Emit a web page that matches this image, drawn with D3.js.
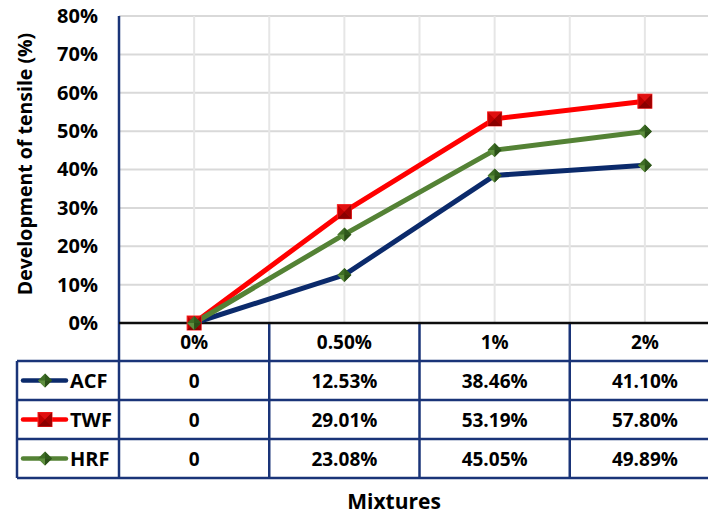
<!DOCTYPE html>
<html><head><meta charset="utf-8">
<script src="https://cdn.jsdelivr.net/npm/d3@7"></script>
<style>body{margin:0;background:#fff;} svg{display:block;} text{font-family:"Open Sans","Noto Sans",sans-serif;font-weight:700;fill:#000;}</style>
</head><body>
<svg id="c" width="708" height="515"></svg>
<script>
const categories = ["0%", "0.50%", "1%", "2%"];
const seriesNames = ["ACF", "TWF", "HRF"];
const acf = [0, 0.1253, 0.3846, 0.4110];
const twf = [0, 0.2901, 0.5319, 0.5780];
const hrf = [0, 0.2308, 0.4505, 0.4989];
const tableLabels = {
  ACF: ["0", "12.53%", "38.46%", "41.10%"],
  TWF: ["0", "29.01%", "53.19%", "57.80%"],
  HRF: ["0", "23.08%", "45.05%", "49.89%"]
};
const yTicks = [0, 0.1, 0.2, 0.3, 0.4, 0.5, 0.6, 0.7, 0.8];

const series = [
  {name: "ACF", values: acf, color: "#0b2a6b", marker: "diamond"},
  {name: "TWF", values: twf, color: "#ff0000", marker: "square"},
  {name: "HRF", values: hrf, color: "#548235", marker: "diamond"}
];

const svg = d3.select("#c");
const pLeft = 119, pRight = 720, pTop = 16, pBottom = 323;
const x = d3.scaleBand().domain(categories).range([pLeft, pRight]).paddingInner(0).paddingOuter(0);
const y = d3.scaleLinear().domain([0, 0.8]).range([pBottom, pTop]);
const navy = "#1a3478";
const rowH = 39;
const tableTop = pBottom, headerBottom = pBottom + 38;

function drawMarker(sel, s, cx, cy) {
  const gm = sel.append("g").attr("transform", `translate(${cx},${cy})`);
  if (s.marker === "square") {
    const r = 7;
    gm.append("rect").attr("x", -r).attr("y", -r).attr("width", 2 * r).attr("height", 2 * r)
      .attr("fill", "#c00000").attr("stroke", "#ff2020").attr("stroke-width", 1);
    gm.append("path").attr("d", `M${-r},${-r}L0,0L${r},${-r}Z`).attr("fill", "#e01010");
    gm.append("path").attr("d", `M${-r},${r}L0,0L${r},${r}Z`).attr("fill", "#8a0000");
    gm.append("path").attr("d", `M${r},${-r}L0,0L${r},${r}Z`).attr("fill", "#a00000");
  } else {
    const r = 7;
    gm.append("path").attr("d", `M0,${-r}L${r},0L0,${r}L${-r},0Z`).attr("fill", "#3f6e26");
    gm.append("path").attr("d", `M0,${-r}L${r},0L0,0Z`).attr("fill", "#2f5a1c");
    gm.append("path").attr("d", `M${-r},0L0,${r}L0,0Z`).attr("fill", "#5e8f3e");
    gm.append("path").attr("d", `M0,${r}L${r},0L0,0Z`).attr("fill", "#2a4f18");
  }
}

// gridlines
const g = svg.append("g");
g.selectAll(".hg").data(yTicks.slice(1)).join("line")
  .attr("x1", pLeft).attr("x2", pRight).attr("y1", d => y(d)).attr("y2", d => y(d))
  .attr("stroke", "#d9d9d9").attr("stroke-width", 2);
const vlines = [];
categories.forEach(c => { vlines.push(x(c)); vlines.push(x(c) + x.bandwidth() / 2); });
vlines.push(pRight);
g.selectAll(".vg").data(vlines.slice(1)).join("line")
  .attr("x1", d => d).attr("x2", d => d).attr("y1", pTop).attr("y2", pBottom)
  .attr("stroke", "#e6e6e6").attr("stroke-width", 2);

// y axis ticks
const yAxis = d3.axisLeft(y).tickValues(yTicks).tickFormat(d3.format(".0%")).tickSize(0).tickPadding(21);
const ya = svg.append("g").attr("transform", `translate(${pLeft},0)`).call(yAxis);
ya.select(".domain").remove();
ya.selectAll("text").attr("font-size", 20).attr("font-family", "'Open Sans',sans-serif").attr("font-weight", 700).attr("fill", "#000");

// table
const tg = svg.append("g");
const rows = seriesNames.length;
const tableBottom = headerBottom + rows * rowH;
[pLeft, ...categories.slice(1).map(c => x(c))].forEach(xx => {
  tg.append("line").attr("x1", xx).attr("x2", xx).attr("y1", tableTop).attr("y2", tableBottom)
    .attr("stroke", navy).attr("stroke-width", 2.5);
});
tg.append("line").attr("x1", pLeft).attr("x2", pLeft).attr("y1", pTop).attr("y2", tableTop)
  .attr("stroke", navy).attr("stroke-width", 2.5);
tg.append("line").attr("x1", 17).attr("x2", 17).attr("y1", headerBottom).attr("y2", tableBottom)
  .attr("stroke", navy).attr("stroke-width", 2.5);
for (let i = 0; i <= rows; i++) {
  const yy = headerBottom + i * rowH;
  tg.append("line").attr("x1", 17).attr("x2", pRight).attr("y1", yy).attr("y2", yy)
    .attr("stroke", navy).attr("stroke-width", 2.5);
}
tg.selectAll(".hl").data(categories).join("text")
  .attr("x", d => x(d) + x.bandwidth() / 2).attr("y", (tableTop + headerBottom) / 2 + 7)
  .attr("text-anchor", "middle").attr("font-size", 19).text(d => d);
series.forEach((s, i) => {
  const cy = headerBottom + i * rowH + rowH / 2;
  tg.selectAll(".v" + i).data(tableLabels[s.name]).join("text")
    .attr("x", (d, j) => x(categories[j]) + x.bandwidth() / 2).attr("y", cy + 7)
    .attr("text-anchor", "middle").attr("font-size", 19).text(d => d);
  tg.append("line").attr("x1", 23).attr("x2", 66).attr("y1", cy).attr("y2", cy)
    .attr("stroke", s.color).attr("stroke-width", 4.5).attr("stroke-linecap", "round");
  drawMarker(tg, s, 45, cy);
  tg.append("text").attr("x", 70).attr("y", cy + 7).attr("font-size", 20).text(s.name);
});

// x axis (0 line)
svg.append("line").attr("x1", pLeft).attr("x2", pRight).attr("y1", pBottom).attr("y2", pBottom)
  .attr("stroke", "#0d0d0d").attr("stroke-width", 2.5);

// lines
const line = d3.line().x((d, i) => x(categories[i]) + x.bandwidth() / 2).y(d => y(d));
series.forEach(s => {
  svg.append("path").datum(s.values).attr("d", line).attr("fill", "none")
    .attr("stroke", s.color).attr("stroke-width", 5).attr("stroke-linejoin", "round");
});
series.forEach(s => {
  s.values.forEach((v, i) => drawMarker(svg, s, x(categories[i]) + x.bandwidth() / 2, y(v)));
});

// axis titles
svg.append("text").attr("transform", `translate(32,${(pTop + 312) / 2}) rotate(-90)`)
  .attr("text-anchor", "middle").attr("font-size", 19.5).text("Development of tensile (%)");
svg.append("text").attr("x", 394).attr("y", 509).attr("text-anchor", "middle")
  .attr("font-size", 21).text("Mixtures");
</script>
</body></html>
